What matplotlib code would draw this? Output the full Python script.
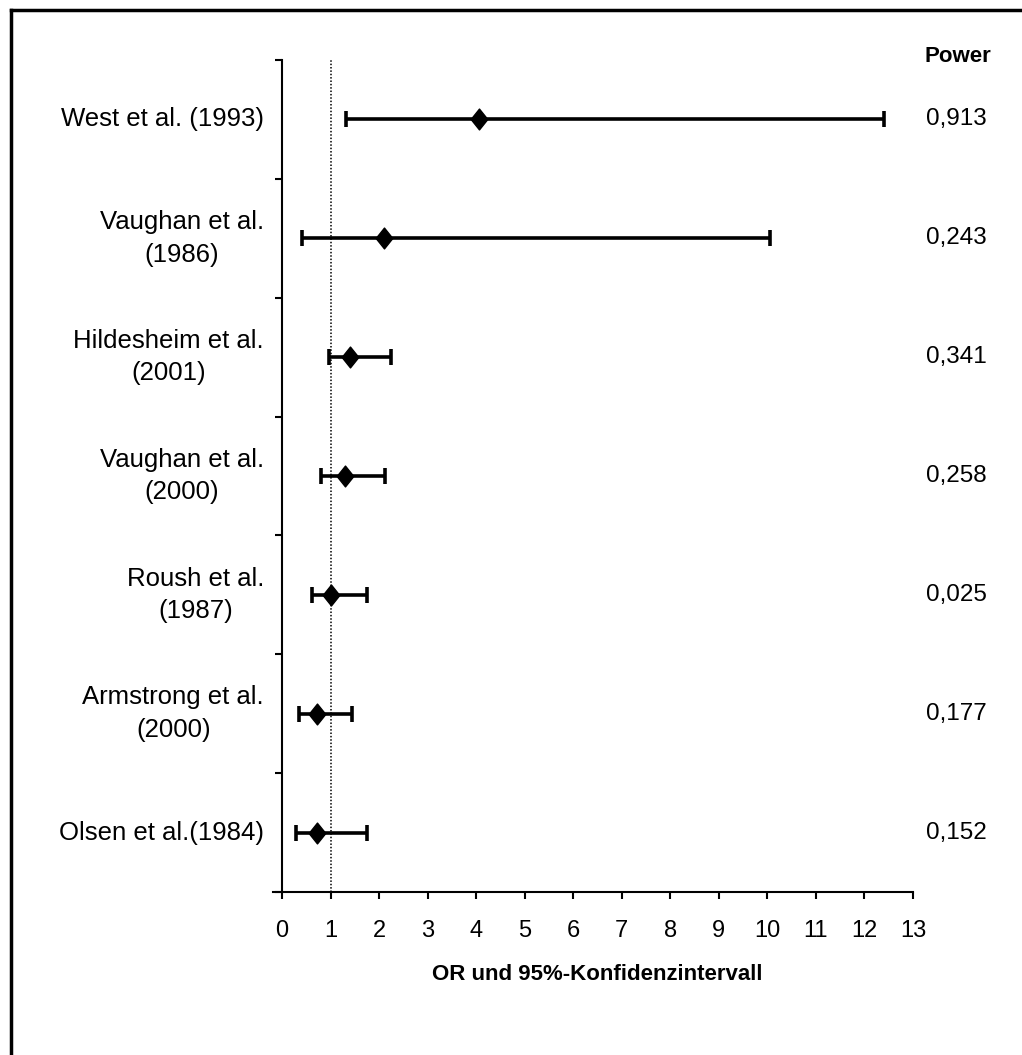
import matplotlib
matplotlib.use('Agg')
import matplotlib.pyplot as plt
from matplotlib.path import Path
from matplotlib.lines import Line2D

plt.rcParams['font.family'] = ['Liberation Sans', 'DejaVu Sans']

# studies, top to bottom
studies = ['West et al. (1993)', 'Vaughan et al.\n(1986)', 'Hildesheim et al.\n(2001)',
           'Vaughan et al.\n(2000)', 'Roush et al.\n(1987)', 'Armstrong et al.\n(2000)',
           'Olsen et al.(1984)']
odds = [4.05, 2.1, 1.4, 1.3, 1.0, 0.72, 0.72]
ci_low = [1.32, 0.41, 0.96, 0.81, 0.61, 0.36, 0.29]
ci_high = [12.4, 10.05, 2.25, 2.13, 1.75, 1.44, 1.75]
power = ['0,913', '0,243', '0,341', '0,258', '0,025', '0,177', '0,152']
xticks = list(range(0, 14))

fig = plt.figure(figsize=[10.22, 10.55], dpi=100)
ax = fig.add_axes([282/1022, 1-892/1055, (913-282)/1022, (892-60)/1055])

n = len(studies)
ypos = [n - i - 0.5 for i in range(n)]

diamond = Path([(0, 1), (0.8, 0), (0, -1), (-0.8, 0), (0, 1)],
               [Path.MOVETO, Path.LINETO, Path.LINETO, Path.LINETO, Path.CLOSEPOLY])

ax.axvline(1, color='k', linestyle=(0, (1, 1.2)), linewidth=1.1, zorder=1)

err = [[o - l for o, l in zip(odds, ci_low)], [h - o for o, h in zip(odds, ci_high)]]
ax.errorbar(odds, ypos, xerr=err, fmt='none', ecolor='k', elinewidth=2.6,
            capsize=6, capthick=2.6, zorder=2)
ax.plot(odds, ypos, linestyle='none', marker=diamond, markersize=15,
        color='k', zorder=3)

ax.set_xlim(0, 13)
ax.set_ylim(0, n)
ax.set_xticks(xticks)
ax.set_xticklabels([str(t) for t in xticks], fontsize=17)
ax.set_yticks(range(0, n + 1))
ax.set_yticklabels([])
ax.tick_params(axis='x', direction='out', length=5, width=1.5, pad=15)
ax.tick_params(axis='y', direction='out', length=5, width=1.5)
for s in ['top', 'right']:
    ax.spines[s].set_visible(False)
ax.spines['left'].set_linewidth(1.5)
ax.spines['bottom'].set_linewidth(1.5)
ax.spines['bottom'].set_bounds(-0.18, 13)

for y, lab, p in zip(ypos, studies, power):
    ax.text(-18/631, y, lab, transform=ax.get_yaxis_transform(), ha='right',
            va='center', multialignment='center', fontsize=18.5, linespacing=1.45)
    ax.annotate(p, xy=(956/1022, y), xycoords=('figure fraction', 'data'),
                ha='center', va='center', fontsize=17.5, annotation_clip=False)

fig.text(958/1022, 1-56/1055, 'Power', ha='center', va='center', fontsize=16,
         fontweight='bold')
fig.text(597/1022, 1-975/1055, 'OR und 95%-Konfidenzintervall', ha='center',
         va='center', fontsize=16, fontweight='bold')

# outer frame (left and top only visible)
fig.add_artist(Line2D([11/1022, 11/1022], [0, 1-10/1055], transform=fig.transFigure,
                      color='k', linewidth=2.5))
fig.add_artist(Line2D([11/1022, 1], [1-10/1055, 1-10/1055], transform=fig.transFigure,
                      color='k', linewidth=2.5))

plt.savefig('out.png', dpi=100)
